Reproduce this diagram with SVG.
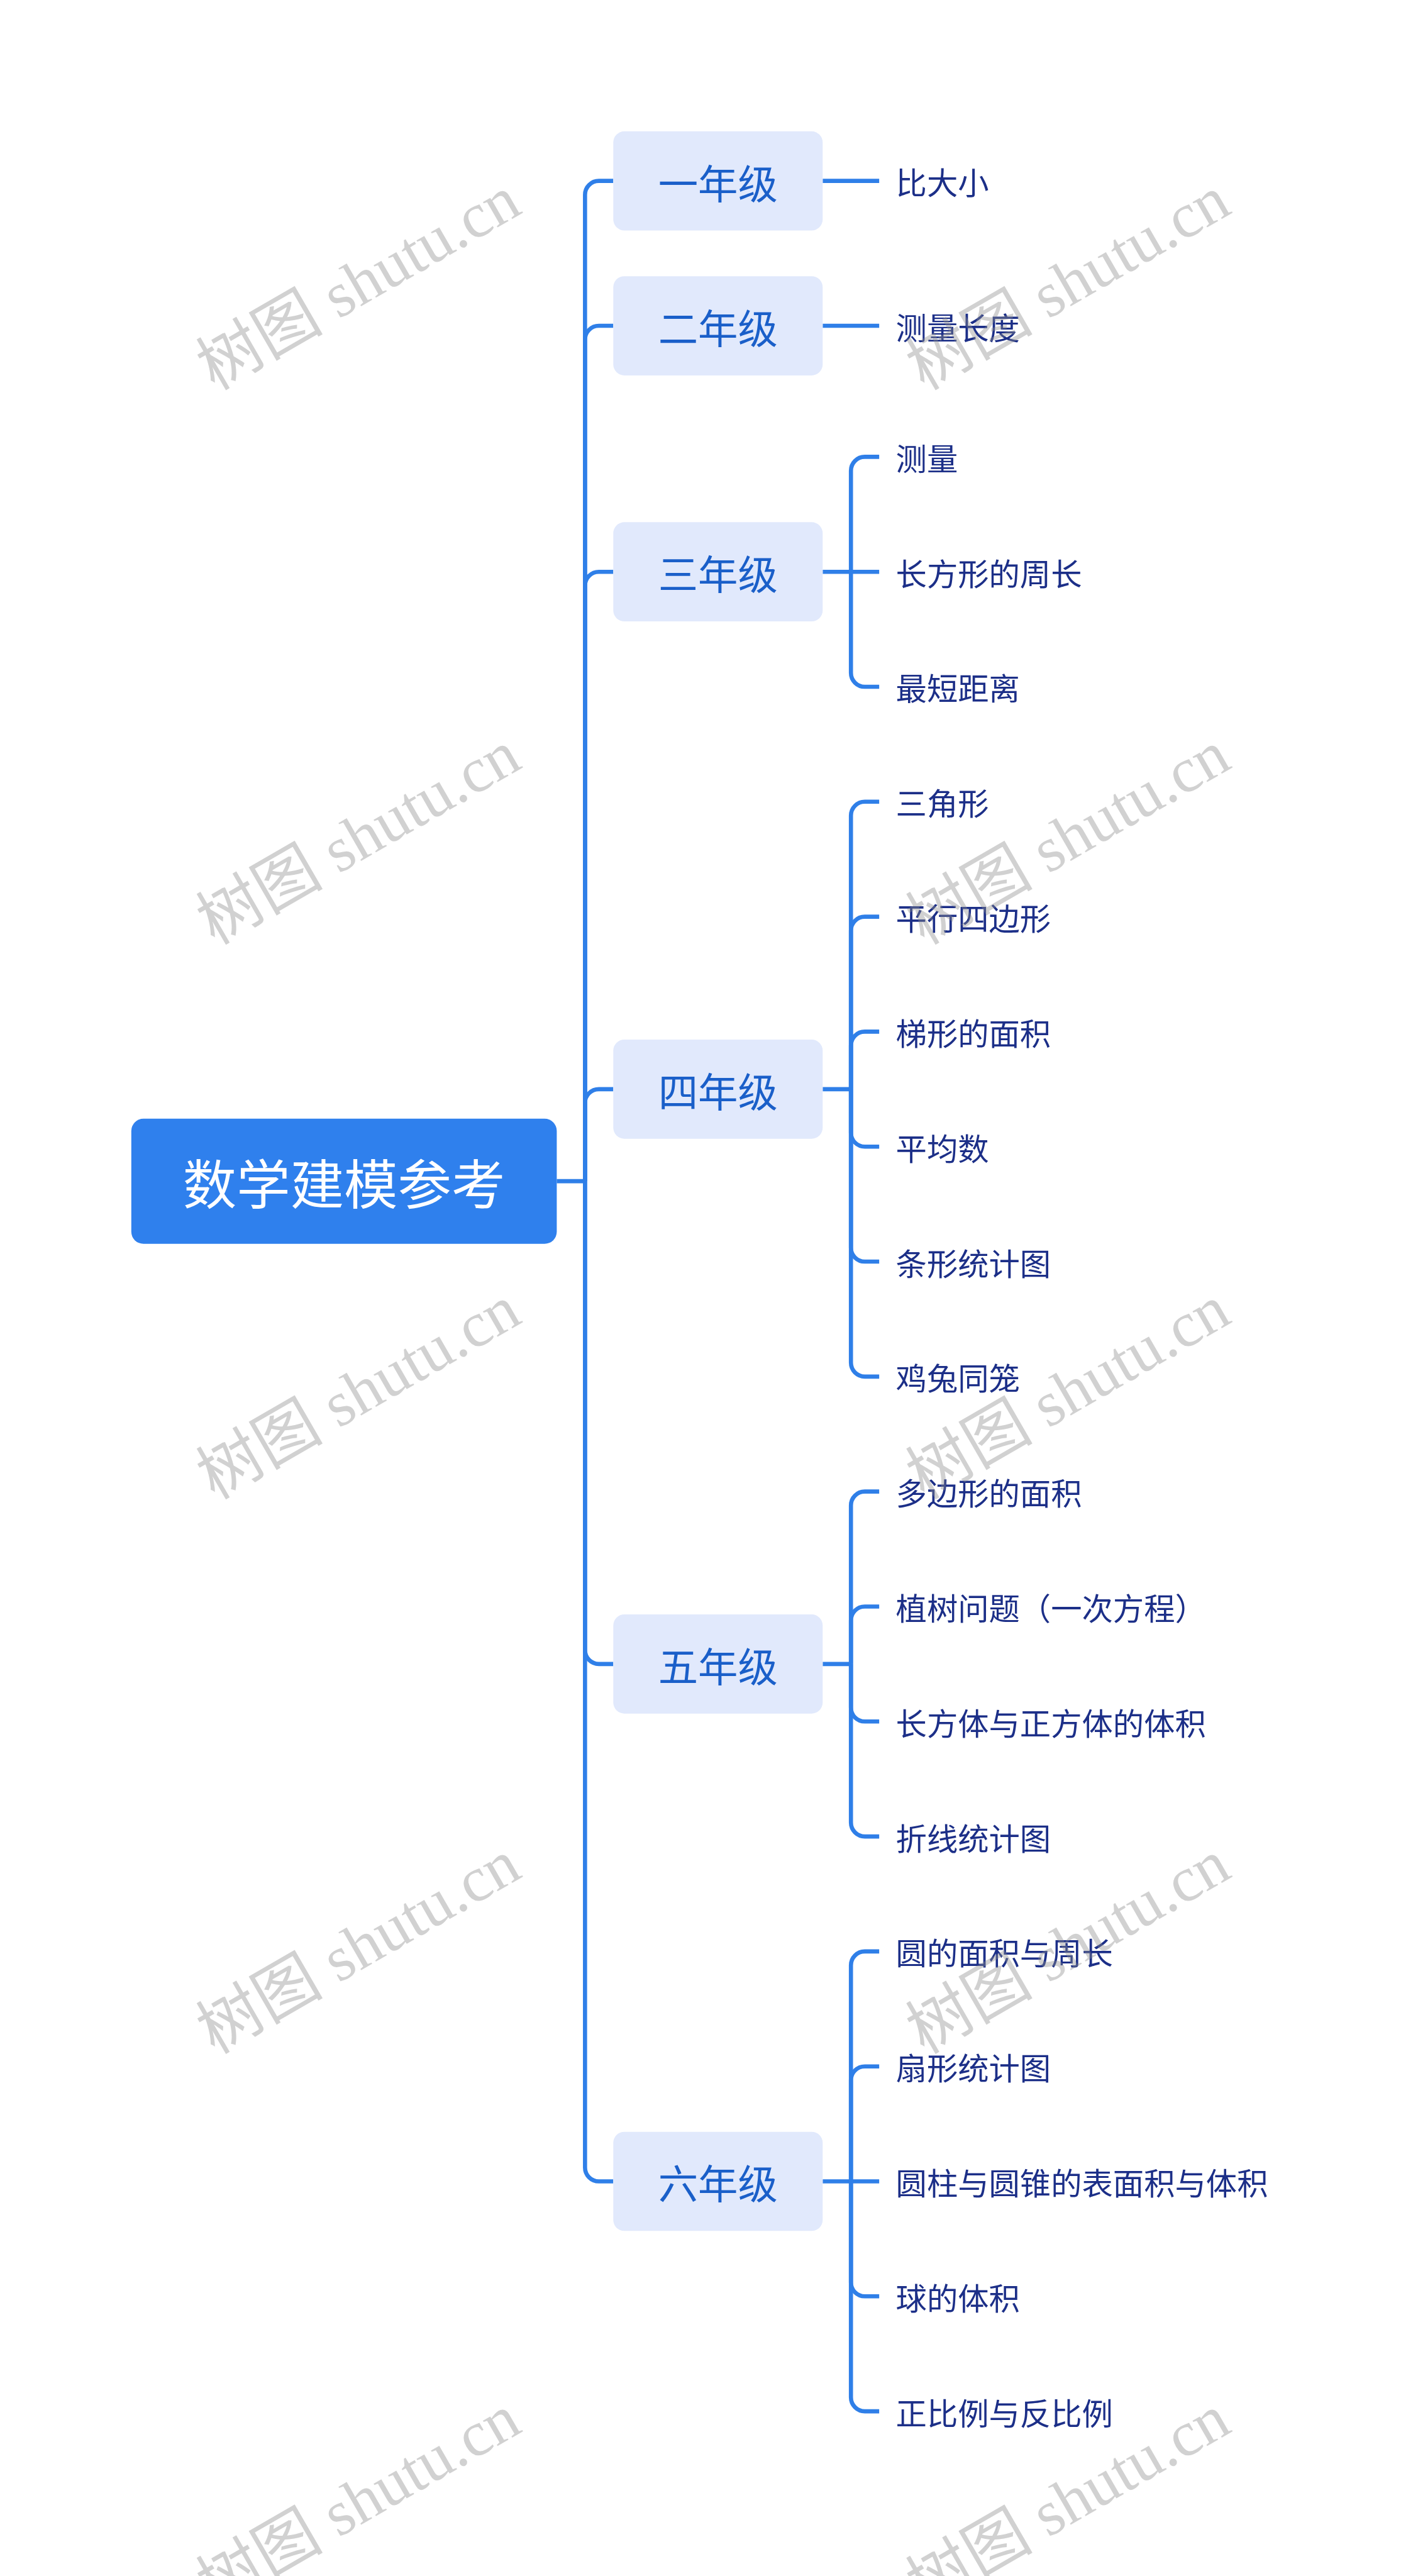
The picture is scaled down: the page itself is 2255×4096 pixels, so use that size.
<svg xmlns="http://www.w3.org/2000/svg" width="2255" height="4096" viewBox="0 0 2255 4096">
<style>
.rootbox{fill:#2f80ed}
.roottext{fill:#ffffff;font-size:97px;font-family:"Noto Sans CJK SC","Noto Sans",sans-serif;text-anchor:middle;dominant-baseline:central}
.l1box{fill:#e1e9fc}
.l1text{fill:#1a5fc9;font-size:72px;font-family:"Noto Sans CJK SC","Noto Sans",sans-serif;text-anchor:middle;dominant-baseline:central}
.leaf{fill:#1c2f88;font-size:56px;font-family:"Noto Sans CJK SC","Noto Sans",sans-serif;text-anchor:start;dominant-baseline:central}
.conn{fill:none;stroke:#2f7fe8;stroke-width:7.5;stroke-linejoin:round}
.wm{fill:#8c8c8c;fill-opacity:0.4;font-size:115px;font-family:"Liberation Serif","Noto Sans CJK SC",serif;text-anchor:middle;dominant-baseline:central}
</style>
<rect x="0" y="0" width="2255" height="4096" fill="#ffffff"/>
<g transform="scale(0.881)">
<g id="connectors">
<path class="conn" d="M1005,2131.75 H1056"/>
<path class="conn" d="M1056,2131.75 V351.5 A25,25 0 0 1 1081,326.5 H1107"/>
<path class="conn" d="M1056,2131.75 V613 A25,25 0 0 1 1081,588 H1107"/>
<path class="conn" d="M1056,2131.75 V1057 A25,25 0 0 1 1081,1032 H1107"/>
<path class="conn" d="M1056,2131.75 V1990.75 A25,25 0 0 1 1081,1965.75 H1107"/>
<path class="conn" d="M1056,2131.75 V2978.25 A25,25 0 0 0 1081,3003.25 H1107"/>
<path class="conn" d="M1056,2131.75 V3912 A25,25 0 0 0 1081,3937 H1107"/>
<path class="conn" d="M1485,326.5 H1587"/>
<path class="conn" d="M1485,588 H1587"/>
<path class="conn" d="M1485,1032 H1536"/>
<path class="conn" d="M1536,1032 V849.5 A25,25 0 0 1 1561,824.5 H1587"/>
<path class="conn" d="M1536,1032 H1587"/>
<path class="conn" d="M1536,1032 V1214.5 A25,25 0 0 0 1561,1239.5 H1587"/>
<path class="conn" d="M1485,1965.75 H1536"/>
<path class="conn" d="M1536,1965.75 V1472 A25,25 0 0 1 1561,1447 H1587"/>
<path class="conn" d="M1536,1965.75 V1679.5 A25,25 0 0 1 1561,1654.5 H1587"/>
<path class="conn" d="M1536,1965.75 V1887 A25,25 0 0 1 1561,1862 H1587"/>
<path class="conn" d="M1536,1965.75 V2044.5 A25,25 0 0 0 1561,2069.5 H1587"/>
<path class="conn" d="M1536,1965.75 V2252 A25,25 0 0 0 1561,2277 H1587"/>
<path class="conn" d="M1536,1965.75 V2459.5 A25,25 0 0 0 1561,2484.5 H1587"/>
<path class="conn" d="M1485,3003.25 H1536"/>
<path class="conn" d="M1536,3003.25 V2717 A25,25 0 0 1 1561,2692 H1587"/>
<path class="conn" d="M1536,3003.25 V2924.5 A25,25 0 0 1 1561,2899.5 H1587"/>
<path class="conn" d="M1536,3003.25 V3082 A25,25 0 0 0 1561,3107 H1587"/>
<path class="conn" d="M1536,3003.25 V3289.5 A25,25 0 0 0 1561,3314.5 H1587"/>
<path class="conn" d="M1485,3937 H1536"/>
<path class="conn" d="M1536,3937 V3547 A25,25 0 0 1 1561,3522 H1587"/>
<path class="conn" d="M1536,3937 V3754.5 A25,25 0 0 1 1561,3729.5 H1587"/>
<path class="conn" d="M1536,3937 H1587"/>
<path class="conn" d="M1536,3937 V4119.5 A25,25 0 0 0 1561,4144.5 H1587"/>
<path class="conn" d="M1536,3937 V4327 A25,25 0 0 0 1561,4352 H1587"/>
</g>
<g id="node-root"><rect class="rootbox" x="237" y="2019" width="768" height="226" rx="22"/><text class="roottext" x="621" y="2132">数学建模参考</text></g>
<g id="node-g1"><rect class="l1box" x="1107" y="237" width="378" height="179" rx="20"/><text class="l1text" x="1296" y="326.5">一年级</text></g>
<g id="node-g2"><rect class="l1box" x="1107" y="498.5" width="378" height="179" rx="20"/><text class="l1text" x="1296" y="588">二年级</text></g>
<g id="node-g3"><rect class="l1box" x="1107" y="942.5" width="378" height="179" rx="20"/><text class="l1text" x="1296" y="1032">三年级</text></g>
<g id="node-g4"><rect class="l1box" x="1107" y="1876.25" width="378" height="179" rx="20"/><text class="l1text" x="1296" y="1965.75">四年级</text></g>
<g id="node-g5"><rect class="l1box" x="1107" y="2913.75" width="378" height="179" rx="20"/><text class="l1text" x="1296" y="3003.25">五年级</text></g>
<g id="node-g6"><rect class="l1box" x="1107" y="3847.5" width="378" height="179" rx="20"/><text class="l1text" x="1296" y="3937">六年级</text></g>
<g id="leaf-1"><text class="leaf" x="1617" y="326.5">比大小</text></g>
<g id="leaf-2"><text class="leaf" x="1617" y="588">测量长度</text></g>
<g id="leaf-3"><text class="leaf" x="1617" y="824.5">测量</text></g>
<g id="leaf-4"><text class="leaf" x="1617" y="1032">长方形的周长</text></g>
<g id="leaf-5"><text class="leaf" x="1617" y="1239.5">最短距离</text></g>
<g id="leaf-6"><text class="leaf" x="1617" y="1447">三角形</text></g>
<g id="leaf-7"><text class="leaf" x="1617" y="1654.5">平行四边形</text></g>
<g id="leaf-8"><text class="leaf" x="1617" y="1862">梯形的面积</text></g>
<g id="leaf-9"><text class="leaf" x="1617" y="2069.5">平均数</text></g>
<g id="leaf-10"><text class="leaf" x="1617" y="2277">条形统计图</text></g>
<g id="leaf-11"><text class="leaf" x="1617" y="2484.5">鸡兔同笼</text></g>
<g id="leaf-12"><text class="leaf" x="1617" y="2692">多边形的面积</text></g>
<g id="leaf-13"><text class="leaf" x="1617" y="2899.5">植树问题（一次方程）</text></g>
<g id="leaf-14"><text class="leaf" x="1617" y="3107">长方体与正方体的体积</text></g>
<g id="leaf-15"><text class="leaf" x="1617" y="3314.5">折线统计图</text></g>
<g id="leaf-16"><text class="leaf" x="1617" y="3522">圆的面积与周长</text></g>
<g id="leaf-17"><text class="leaf" x="1617" y="3729.5">扇形统计图</text></g>
<g id="leaf-18"><text class="leaf" x="1617" y="3937">圆柱与圆锥的表面积与体积</text></g>
<g id="leaf-19"><text class="leaf" x="1617" y="4144.5">球的体积</text></g>
<g id="leaf-20"><text class="leaf" x="1617" y="4352">正比例与反比例</text></g>
<g id="watermarks">
<text class="wm" x="647" y="511" transform="rotate(-30 647 511)">树图 shutu.cn</text>
<text class="wm" x="1928" y="511" transform="rotate(-30 1928 511)">树图 shutu.cn</text>
<text class="wm" x="647" y="1512" transform="rotate(-30 647 1512)">树图 shutu.cn</text>
<text class="wm" x="1928" y="1512" transform="rotate(-30 1928 1512)">树图 shutu.cn</text>
<text class="wm" x="647" y="2513" transform="rotate(-30 647 2513)">树图 shutu.cn</text>
<text class="wm" x="1928" y="2513" transform="rotate(-30 1928 2513)">树图 shutu.cn</text>
<text class="wm" x="647" y="3514" transform="rotate(-30 647 3514)">树图 shutu.cn</text>
<text class="wm" x="1928" y="3514" transform="rotate(-30 1928 3514)">树图 shutu.cn</text>
<text class="wm" x="647" y="4515" transform="rotate(-30 647 4515)">树图 shutu.cn</text>
<text class="wm" x="1928" y="4515" transform="rotate(-30 1928 4515)">树图 shutu.cn</text>
</g>
</g>
</svg>
